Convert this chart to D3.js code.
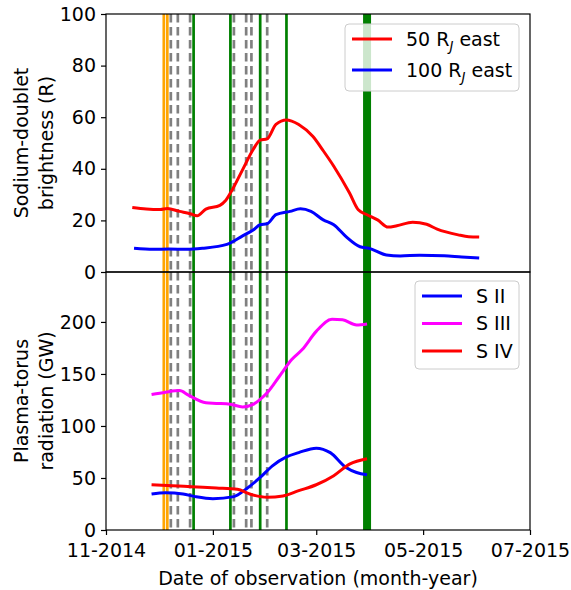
<!DOCTYPE html>
<html>
<head>
<meta charset="utf-8">
<script src="https://cdn.jsdelivr.net/npm/d3@7"></script>
<style>
  body { margin: 0; background: #fff; }
  text { font-family: "DejaVu Sans", sans-serif; fill: #000; }
</style>
</head>
<body>
<svg id="chart" width="571" height="590"></svg>
<script>
// Sodium-doublet brightness, 50 R_J east (R)
const na50Dates = ["2014-11-16","2014-11-24","2014-12-02","2014-12-06","2014-12-13","2014-12-19","2014-12-23","2014-12-28","2015-01-05","2015-01-08","2015-01-11","2015-01-18","2015-01-24","2015-01-28","2015-02-01","2015-02-06","2015-02-12","2015-02-15","2015-02-19","2015-02-27","2015-03-05","2015-03-11","2015-03-20","2015-03-25","2015-03-30","2015-04-05","2015-04-11","2015-04-16","2015-04-25","2015-05-03","2015-05-09","2015-05-21","2015-05-27","2015-06-02"];
const na50Values = [25.0,24.4,24.2,24.6,23.5,22.6,21.8,24.4,25.8,27.5,30.6,39.7,47.5,51.1,51.6,57.2,58.9,58.5,57.2,52.6,47.0,41.0,30.6,24.1,22.2,20.2,17.4,17.9,19.3,18.5,16.6,14.4,13.7,13.6];

// Sodium-doublet brightness, 100 R_J east (R)
const na100Dates = ["2014-11-17","2014-11-28","2014-12-07","2014-12-17","2014-12-26","2015-01-09","2015-01-18","2015-01-24","2015-01-28","2015-02-01","2015-02-06","2015-02-14","2015-02-20","2015-02-26","2015-03-05","2015-03-11","2015-03-18","2015-03-26","2015-03-31","2015-04-10","2015-04-18","2015-04-29","2015-05-13","2015-05-23","2015-06-02"];
const na100Values = [9.2,8.8,8.9,8.8,9.2,10.7,14.0,16.3,18.3,18.7,22.2,23.5,24.5,23.5,20.2,18.3,13.7,9.8,9.2,6.6,6.2,6.5,6.3,5.8,5.4];

// Plasma-torus radiation, S II (GW)
const s2Dates = ["2014-11-27","2014-12-05","2014-12-15","2014-12-22","2015-01-01","2015-01-13","2015-01-20","2015-01-28","2015-02-04","2015-02-12","2015-02-19","2015-03-01","2015-03-09","2015-03-18","2015-03-24","2015-03-30"];
const s2Values = [34.6,35.9,34.6,32.1,30.1,32.1,39.4,50.5,61.7,70.3,74.4,78.7,74.4,60.1,55.3,53.1];

// Plasma-torus radiation, S III (GW)
const s3Dates = ["2014-11-27","2014-12-05","2014-12-13","2014-12-18","2014-12-28","2015-01-03","2015-01-11","2015-01-18","2015-01-24","2015-01-28","2015-02-01","2015-02-08","2015-02-15","2015-02-21","2015-03-01","2015-03-10","2015-03-16","2015-03-24","2015-03-30"];
const s3Values = [130.3,132.5,134.0,129.7,122.3,121.7,120.8,118.3,120.8,125.6,131.9,147.8,163.8,173.4,190.9,202.5,202.0,197.0,198.0];

// Plasma-torus radiation, S IV (GW)
const s4Dates = ["2014-11-27","2014-12-09","2014-12-20","2015-01-03","2015-01-15","2015-01-22","2015-02-01","2015-02-10","2015-02-19","2015-03-01","2015-03-11","2015-03-20","2015-03-30"];
const s4Values = [43.5,42.6,41.6,40.4,39.1,34.6,31.4,32.7,37.8,43.5,52.2,63.3,68.5];

// Observation markers
const orangeDates = ["2014-12-04","2014-12-06"];
const grayDates = ["2014-12-08","2014-12-12","2014-12-19","2015-01-13","2015-01-20","2015-01-23","2015-02-01"];
const greenDates = ["2014-12-21","2015-01-11","2015-01-28","2015-02-12"];
const wideGreenDates = ["2015-03-30"];

// Axis ticks
const xTickLabels = ["11-2014","01-2015","03-2015","05-2015","07-2015"];
const topTicks = [0,20,40,60,80,100];
const bottomTicks = [0,50,100,150,200];

const parse = d3.utcParse("%Y-%m-%d");
const parseTick = d3.utcParse("%m-%Y");

const svg = d3.select("#chart");
const plotLeft = 106, plotRight = 530, plotTop = 14, plotMid = 272, plotBottom = 530;
const fs = 19;

const x = d3.scaleUtc()
  .domain([parse("2014-11-01"), parse("2015-07-01")])
  .range([plotLeft, plotRight]);
const yTop = d3.scaleLinear().domain([0, 100]).range([plotMid, plotTop]);
const yBot = d3.scaleLinear().domain([0, 248]).range([plotBottom, plotMid]);

function markers(y0, y1) {
  const g = svg.append("g");
  const vline = (dates, color, width, dash) => {
    g.selectAll(null).data(dates.map(parse)).join("line")
      .attr("x1", d => x(d)).attr("x2", d => x(d))
      .attr("y1", y0).attr("y2", y1)
      .attr("stroke", color).attr("stroke-width", width)
      .attr("stroke-dasharray", dash || null);
  };
  vline(orangeDates, "#ffa500", 2.7);
  vline(grayDates, "#808080", 2.7, "8.5,4.5");
  vline(greenDates, "#008000", 2.7);
  vline(wideGreenDates, "#008000", 8);
}

function series(dates, values, yScale, color) {
  const pts = dates.map((d, i) => [parse(d), values[i]]);
  svg.append("path")
    .attr("d", d3.line().x(d => x(d[0])).y(d => yScale(d[1])).curve(d3.curveMonotoneX)(pts))
    .attr("fill", "none").attr("stroke", color).attr("stroke-width", 3)
    .attr("stroke-linejoin", "round").attr("stroke-linecap", "butt");
}

function yAxis(scale, ticks) {
  const g = svg.append("g").attr("transform", `translate(${plotLeft},0)`)
    .call(d3.axisLeft(scale).tickValues(ticks).tickSize(5).tickPadding(5).tickSizeOuter(0));
  g.select(".domain").remove();
  g.selectAll("text").attr("font-size", fs).attr("font-family", "DejaVu Sans").attr("fill", "#000");
  g.selectAll("line").attr("stroke", "#000").attr("stroke-width", 1.2);
}

function legend(x0, y0, w, h, items) {
  const g = svg.append("g");
  g.append("rect").attr("x", x0).attr("y", y0).attr("width", w).attr("height", h)
    .attr("rx", 4).attr("fill", "#fff").attr("fill-opacity", 0.8)
    .attr("stroke", "#cccccc").attr("stroke-width", 1);
  items.forEach(it => {
    g.append("line").attr("x1", x0 + 7).attr("x2", x0 + 47)
      .attr("y1", it.y).attr("y2", it.y)
      .attr("stroke", it.color).attr("stroke-width", 3);
    const t = g.append("text").attr("x", x0 + 61).attr("y", it.y)
      .attr("dy", "0.35em").attr("font-size", fs);
    it.parts.forEach(p => {
      const s = t.append("tspan").text(p.text);
      if (p.sub) s.attr("font-size", fs * 0.7).attr("font-style", "italic").attr("dy", 5);
      if (p.after) s.attr("dy", -5);
    });
  });
}

// top panel
markers(plotTop, plotMid);
series(na50Dates, na50Values, yTop, "#ff0000");
series(na100Dates, na100Values, yTop, "#0000ff");

// bottom panel
markers(plotMid, plotBottom);
series(s3Dates, s3Values, yBot, "#ff00ff");
series(s2Dates, s2Values, yBot, "#0000ff");
series(s4Dates, s4Values, yBot, "#ff0000");

// frames
[[plotTop, plotMid], [plotMid, plotBottom]].forEach(([a, b]) => {
  svg.append("rect").attr("x", plotLeft).attr("y", a).attr("width", plotRight - plotLeft).attr("height", b - a)
    .attr("fill", "none").attr("stroke", "#000").attr("stroke-width", 1.2);
});

yAxis(yTop, topTicks);
yAxis(yBot, bottomTicks);

// x axis
const xg = svg.append("g").attr("transform", `translate(0,${plotBottom})`)
  .call(d3.axisBottom(x).tickValues(xTickLabels.map(parseTick))
    .tickFormat(d3.utcFormat("%m-%Y")).tickSize(5).tickPadding(9).tickSizeOuter(0));
xg.select(".domain").remove();
xg.selectAll("text").attr("font-size", fs).attr("font-family", "DejaVu Sans").attr("fill", "#000");
xg.selectAll("line").attr("stroke", "#000").attr("stroke-width", 1.2);

// axis titles
svg.append("text").attr("x", (plotLeft + plotRight) / 2).attr("y", 585)
  .attr("text-anchor", "middle").attr("font-size", fs)
  .text("Date of observation (month-year)");

function yTitle(lines, cy) {
  const t = svg.append("text").attr("transform", `translate(0,${cy}) rotate(-90)`)
    .attr("text-anchor", "middle").attr("font-size", fs);
  lines.forEach((l, i) => {
    t.append("tspan").attr("x", 0).attr("y", 28 + i * 25).text(l);
  });
}
yTitle(["Sodium-doublet", "brightness (R)"], (plotTop + plotMid) / 2);
yTitle(["Plasma-torus", "radiation (GW)"], (plotMid + plotBottom) / 2);

// legends
legend(345, 24, 174, 67, [
  { y: 39, color: "#ff0000", parts: [{ text: "50 R" }, { text: "J", sub: true }, { text: " east", after: true }] },
  { y: 70, color: "#0000ff", parts: [{ text: "100 R" }, { text: "J", sub: true }, { text: " east", after: true }] }
]);
legend(415, 281, 104, 88, [
  { y: 296, color: "#0000ff", parts: [{ text: "S II" }] },
  { y: 323.5, color: "#ff00ff", parts: [{ text: "S III" }] },
  { y: 351, color: "#ff0000", parts: [{ text: "S IV" }] }
]);
</script>
</body>
</html>
